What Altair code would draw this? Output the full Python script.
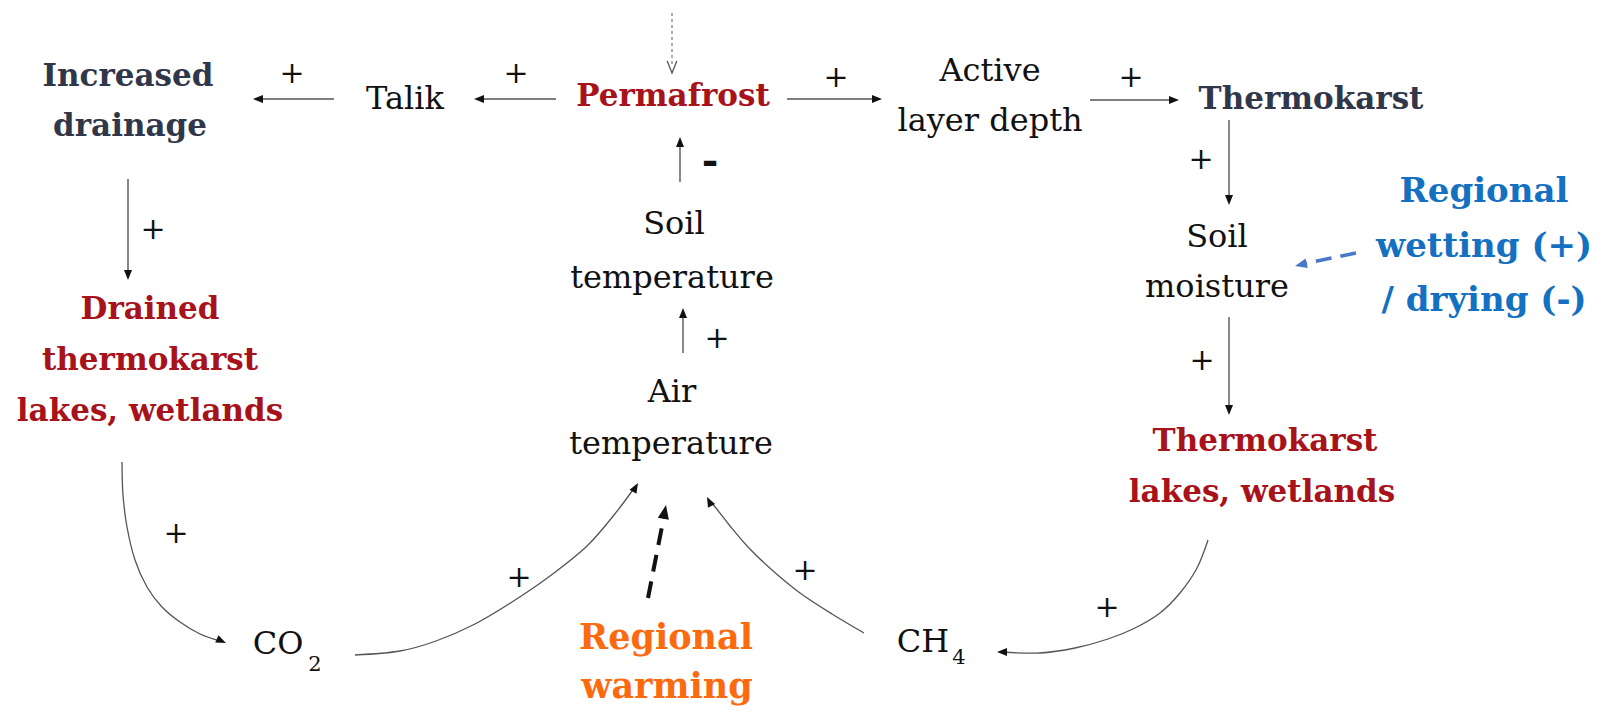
import math
import altair as alt
import pandas as pd

# ---------------- data (page pixel coordinates of the 1604x717 diagram) ----------------
# regular black labels (x = centre, y = baseline)
reg_text = ["Talik", "Active", "layer depth", "Soil", "temperature", "Air", "temperature",
            "Soil", "moisture", "CO", "CH"]
reg_x = [405, 990, 990, 674, 672, 672, 671, 1217, 1217, 278, 923]
reg_y = [109, 81, 131, 234, 288, 402, 454, 247, 297, 654, 652]

sub_text = ["2", "4"]
sub_x = [315, 959]
sub_y = [671, 664]

slate_text = ["Increased", "drainage", "Thermokarst"]
slate_x = [128, 130, 1311]
slate_y = [86, 136, 109]

red_text = ["Permafrost", "Drained", "thermokarst", "lakes, wetlands", "Thermokarst", "lakes, wetlands"]
red_x = [673, 150, 150, 150, 1265, 1262]
red_y = [106, 319, 370, 421, 451, 502]

orange_text = ["Regional", "warming"]
orange_x = [666, 667]
orange_y = [649, 698]

blue_text = ["Regional", "wetting (+)", "/ drying (-)"]
blue_x = [1484, 1484, 1484]
blue_y = [202, 257, 311]

# link signs (centres)
plus_x = [292, 516, 836, 1131, 1201, 1202, 153, 717, 176, 519, 805, 1107]
plus_y = [73, 73, 77, 77, 159, 360, 229, 338, 533, 577, 570, 607]
minus_x = [710]
minus_y = [164]

# straight links
seg_x1 = [556, 334, 787, 1090, 1229, 1229, 128, 680, 683]
seg_y1 = [99, 99, 99, 100, 120, 317, 179, 182, 353]
seg_x2 = [479, 258, 877, 1174, 1229, 1229, 128, 680, 683]
seg_y2 = [99, 99, 99, 100, 200, 410, 275, 142, 313]

# curved links
drained_co2_x = [122, 123, 127, 135, 147, 162, 180, 200, 220]
drained_co2_y = [462, 495, 527, 560, 587, 607, 622, 634, 641]
co2_air_x = [355, 400, 436, 475, 512, 550, 587, 614, 635]
co2_air_y = [655, 651, 641, 624, 602, 576, 546, 515, 487]
lakes_ch4_x = [1208, 1197, 1180, 1160, 1135, 1108, 1075, 1040, 1002]
lakes_ch4_y = [540, 568, 593, 613, 628, 639, 648, 653, 652]
ch4_air_x = [864, 832, 800, 772, 748, 730, 716, 709]
ch4_air_y = [633, 614, 593, 570, 547, 526, 508, 501]

# arrow tips (x, y, direction clockwise from up)
head_x = [474, 253, 882, 1179, 1229, 1229, 128, 680, 683, 226, 638, 997, 707]
head_y = [99, 99, 99, 100, 205, 415, 280, 137, 308, 643, 483, 652, 497]
head_angle = [270, 270, 90, 90, 180, 180, 180, 0, 0, 114, 30, 270, 333]

# dashed drivers
warm_x = [648, 665]
warm_y = [598, 511]
warm_tip = (666, 505, 11)
wet_x = [1356, 1303]
wet_y = [253, 264]
wet_tip = (1295, 266, 257)
dot_x = [672, 672]
dot_y = [13, 66]
dot_tip = (672, 73)

# ---------------- helpers ----------------
W, H = 1588, 701
xs = alt.Scale(domain=[8, 8 + W], nice=False, zero=False)
ys = alt.Scale(domain=[8, 8 + H], nice=False, zero=False, reverse=True)
X = alt.X("x:Q", scale=xs, axis=None)
Y = alt.Y("y:Q", scale=ys, axis=None)
SERIF = "DejaVu Serif"
TRI = "M0,-1L0.8,1L-0.8,1Z"


def heads(xl, yl, al, r):
    cx = [tx - r * math.sin(math.radians(a)) for tx, a in zip(xl, al)]
    cy = [ty + r * math.cos(math.radians(a)) for ty, a in zip(yl, al)]
    return pd.DataFrame({"x": cx, "y": cy, "a": al})


def text_layer(texts, xl, yl, size, color, bold=False):
    df = pd.DataFrame({"t": texts, "x": xl, "y": yl})
    kw = dict(font=SERIF, fontSize=size, color=color, align="center", baseline="alphabetic")
    if bold:
        kw["fontWeight"] = "bold"
    return alt.Chart(df).mark_text(**kw).encode(x=X, y=Y, text="t:N")


layers = []

seg_df = pd.DataFrame({"x": seg_x1, "y": seg_y1, "x2": seg_x2, "y2": seg_y2})
layers.append(alt.Chart(seg_df).mark_rule(color="#555555", strokeWidth=1.4).encode(
    x=X, y=Y, x2="x2:Q", y2="y2:Q"))

rows = []
for cid, (cx, cy) in enumerate([(drained_co2_x, drained_co2_y), (co2_air_x, co2_air_y),
                                (lakes_ch4_x, lakes_ch4_y), (ch4_air_x, ch4_air_y)]):
    for i, (a, b) in enumerate(zip(cx, cy)):
        rows.append({"id": cid, "i": i, "x": a, "y": b})
curve_df = pd.DataFrame(rows)
layers.append(alt.Chart(curve_df).mark_line(interpolate="cardinal", color="#555555", strokeWidth=1.3).encode(
    x=X, y=Y, detail="id:N", order="i:Q"))

layers.append(alt.Chart(pd.DataFrame({"x": [warm_x[0]], "y": [warm_y[0]], "x2": [warm_x[1]], "y2": [warm_y[1]]}))
              .mark_rule(color="#111111", strokeWidth=4, strokeDash=[17, 10]).encode(x=X, y=Y, x2="x2:Q", y2="y2:Q"))
layers.append(alt.Chart(pd.DataFrame({"x": [wet_x[0]], "y": [wet_y[0]], "x2": [wet_x[1]], "y2": [wet_y[1]]}))
              .mark_rule(color="#4a78c8", strokeWidth=3.5, strokeDash=[16, 9]).encode(x=X, y=Y, x2="x2:Q", y2="y2:Q"))
layers.append(alt.Chart(pd.DataFrame({"x": [dot_x[0]], "y": [dot_y[0]], "x2": [dot_x[1]], "y2": [dot_y[1]]}))
              .mark_rule(color="#777777", strokeWidth=1.2, strokeDash=[3, 3]).encode(x=X, y=Y, x2="x2:Q", y2="y2:Q"))

layers.append(alt.Chart(heads(head_x, head_y, head_angle, 5)).mark_point(
    shape=TRI, size=100, filled=True, color="#111111", opacity=1).encode(x=X, y=Y, angle=alt.Angle("a:Q", scale=None)))
layers.append(alt.Chart(heads([warm_tip[0]], [warm_tip[1]], [warm_tip[2]], 7)).mark_point(
    shape=TRI, size=196, filled=True, color="#111111", opacity=1).encode(x=X, y=Y, angle=alt.Angle("a:Q", scale=None)))
layers.append(alt.Chart(heads([wet_tip[0]], [wet_tip[1]], [wet_tip[2]], 6)).mark_point(
    shape=TRI, size=144, filled=True, color="#4a78c8", opacity=1).encode(x=X, y=Y, angle=alt.Angle("a:Q", scale=None)))
layers.append(alt.Chart(pd.DataFrame({"x": [dot_tip[0]], "y": [dot_tip[1] - 6]})).mark_point(
    shape="M-0.8,-1L0,1L0.8,-1", size=144, filled=False, color="#555555", strokeWidth=1.3, opacity=1).encode(x=X, y=Y))

layers.append(text_layer(reg_text, reg_x, reg_y, 32, "#111111"))
layers.append(text_layer(sub_text, sub_x, sub_y, 21, "#111111"))
layers.append(text_layer(slate_text, slate_x, slate_y, 31, "#30374a", True))
layers.append(text_layer(red_text, red_x, red_y, 31, "#a8121a", True))
layers.append(text_layer(orange_text, orange_x, orange_y, 35, "#fb6a0e", True))
layers.append(text_layer(blue_text, blue_x, blue_y, 34, "#1470c0", True))
layers.append(text_layer(["+"] * len(plus_x), plus_x, [v + 10 for v in plus_y], 30, "#111111"))
layers.append(text_layer(["-"] * len(minus_x), minus_x, [v + 10 for v in minus_y], 40, "#111111", True))

chart = alt.layer(*layers).properties(
    width=W, height=H, padding=0, autosize=alt.AutoSizeParams(type="none")
).configure_view(stroke=None)

chart.save("out.html", embed_options={"renderer": "svg", "actions": False})
